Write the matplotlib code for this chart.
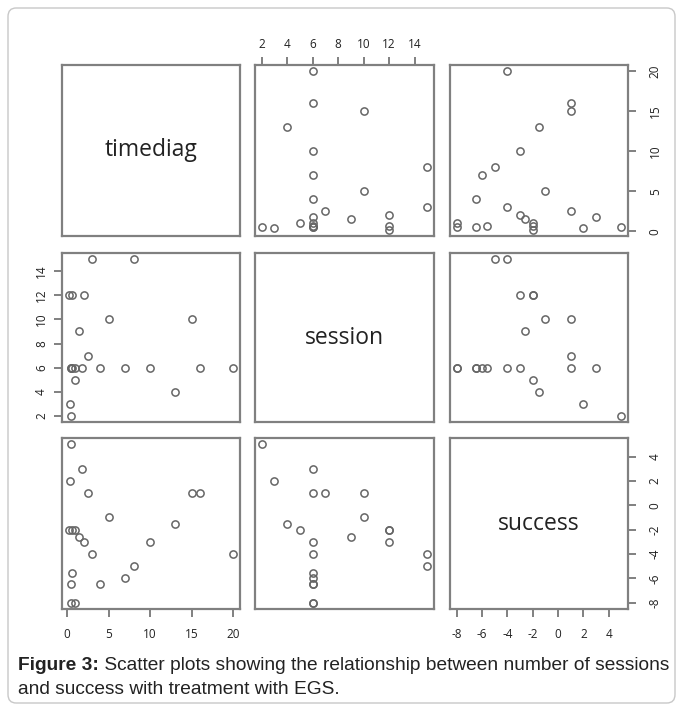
import matplotlib
matplotlib.use("Agg")
import matplotlib.pyplot as plt
from matplotlib.patches import FancyBboxPatch
import numpy as np

plt.rcParams["axes.unicode_minus"] = False

# ---- data ----
timediag = [0.5, 1.8, 0.4, 2.5, 15, 16, 5, 13, 0.2, 0.6, 1.0, 1.5, 2.0, 10, 20, 3, 8, 7, 0.6, 0.5, 4, 0.5, 1.0]
session  = [2, 6, 3, 7, 10, 6, 10, 4, 12, 12, 5, 9, 12, 6, 6, 15, 15, 6, 6, 6, 6, 6, 6]
success  = [5, 3, 2, 1, 1, 1, -1, -1.5, -2, -2, -2, -2.6, -3, -3, -4, -4, -5, -6, -5.6, -6.5, -6.5, -8, -8]

var_names = ["timediag", "session", "success"]
ticks = {
    "timediag": [0, 5, 10, 15, 20],
    "session": [2, 4, 6, 8, 10, 12, 14],
    "success": [-8, -6, -4, -2, 0, 2, 4],
}
caption_bold = "Figure 3:"
caption_rest = " Scatter plots showing the relationship between number of sessions"
caption_line2 = "and success with treatment with EGS."

data = {"timediag": np.array(timediag), "session": np.array(session), "success": np.array(success)}

W, H = 677, 711
fig = plt.figure(figsize=(W / 100, H / 100), dpi=100)

# outer rounded border
border = FancyBboxPatch((8 / W, 8 / H), (W - 10) / W, (H - 16) / H,
                        boxstyle="round,pad=0,rounding_size=0.012",
                        transform=fig.transFigure, fill=False,
                        edgecolor="#c8c8c8", linewidth=1.0)
fig.patches.append(border)

cols_px = [(62, 240), (255, 434), (450, 628)]
rows_px = [(65, 236), (253, 422), (438, 609)]

FRAME = "#808080"
TXT = "#222222"
FONT = "Open Sans"


def lims(v):
    lo, hi = v.min(), v.max()
    pad = (hi - lo) * 0.04
    return lo - pad, hi + pad


n = len(var_names)
tick_len = 6
for r, yvar in enumerate(var_names):
    for c, xvar in enumerate(var_names):
        x0, x1 = cols_px[c]
        y0, y1 = rows_px[r]
        ax = fig.add_axes([x0 / W, 1 - y1 / H, (x1 - x0) / W, (y1 - y0) / H])
        for s in ax.spines.values():
            s.set_color(FRAME)
            s.set_linewidth(1.6)
        ax.set_xticks([])
        ax.set_yticks([])
        ax.set_xlim(*lims(data[xvar]))
        ax.set_ylim(*lims(data[yvar]))
        if r == c:
            ax.text(0.5, 0.5, xvar, ha="center", va="center", fontsize=16.5,
                    family=FONT, color=TXT, transform=ax.transAxes)
        else:
            ax.plot(data[xvar], data[yvar], linestyle="none", marker="o",
                    markersize=5.2, markerfacecolor="none",
                    markeredgecolor="#666666", markeredgewidth=1.1)
        # x axis (R pairs convention: even columns on top, odd at bottom)
        if r == 0 and c % 2 == 1:
            ax.xaxis.set_ticks_position("top")
            ax.set_xticks(ticks[xvar])
            ax.tick_params(axis="x", top=True, bottom=False, labeltop=True,
                           labelbottom=False, pad=4)
        if r == n - 1 and c % 2 == 0:
            ax.set_xticks(ticks[xvar])
            ax.tick_params(axis="x", pad=8)
        # y axis
        if c == 0 and r % 2 == 1:
            ax.set_yticks(ticks[yvar])
            ax.tick_params(axis="y", pad=4)
            for lab in ax.get_yticklabels():
                lab.set_rotation(90)
                lab.set_va("center")
        if c == n - 1 and r % 2 == 0:
            ax.yaxis.set_ticks_position("right")
            ax.set_yticks(ticks[yvar])
            ax.tick_params(axis="y", right=True, left=False, labelright=True,
                           labelleft=False, pad=9)
            for lab in ax.get_yticklabels():
                lab.set_rotation(90)
                lab.set_va("center")
        ax.tick_params(length=tick_len, width=1.4, color=FRAME,
                       labelsize=8.5, labelcolor=TXT)
        for lab in ax.get_xticklabels() + ax.get_yticklabels():
            lab.set_family(FONT)

# caption
CAP = 13.8
t = fig.text(18 / W, 1 - 670 / H, caption_bold, fontsize=CAP, fontweight="bold",
             family="Liberation Sans", color="#222222", va="baseline", ha="left")
fig.canvas.draw()
bb = t.get_window_extent()
fig.text(bb.x1 / W, 1 - 670 / H, caption_rest, fontsize=CAP,
         family="Liberation Sans", color="#222222", va="baseline", ha="left")
fig.text(18 / W, 1 - 694 / H, caption_line2, fontsize=CAP,
         family="Liberation Sans", color="#222222", va="baseline", ha="left")

fig.savefig("out.png", dpi=100)
